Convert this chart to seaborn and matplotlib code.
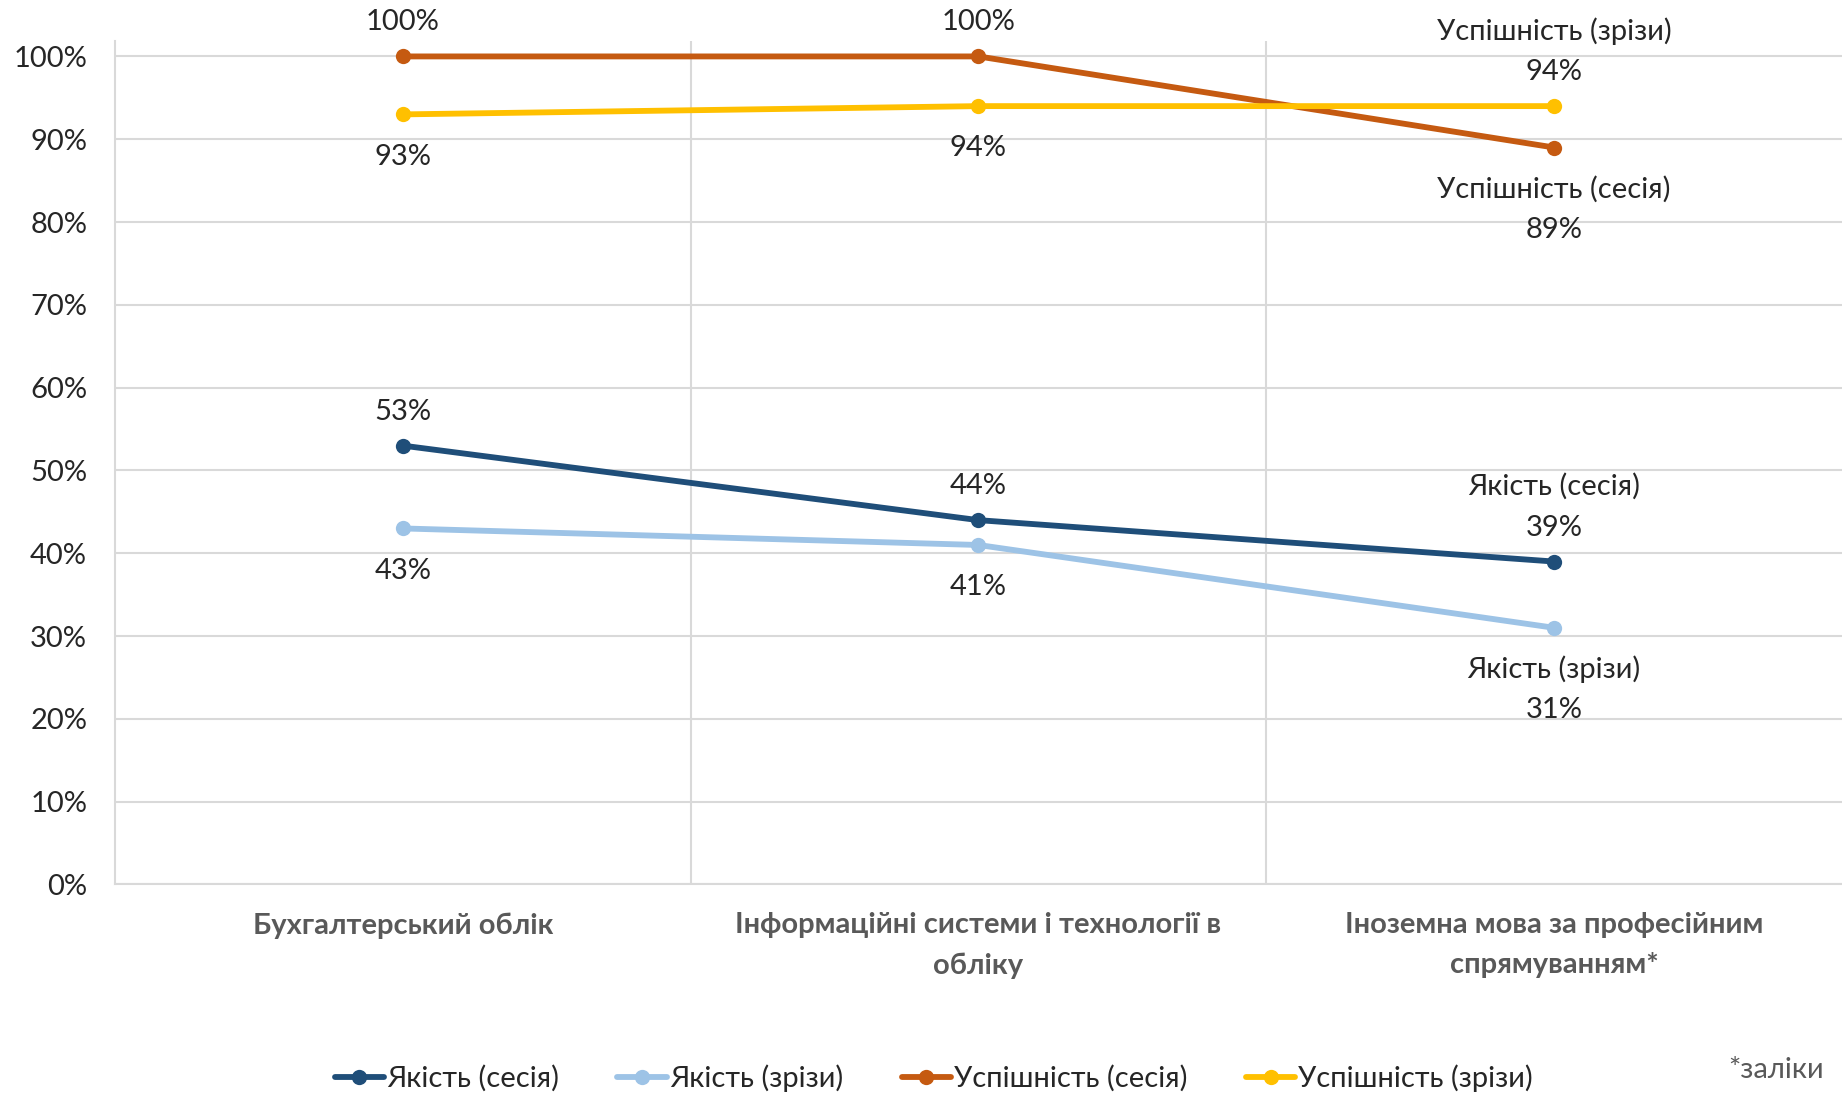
import pandas as pd
import matplotlib
matplotlib.use("Agg")
import matplotlib.pyplot as plt
import seaborn as sns

# Data
subjects = ["Бухгалтерський облік",
            "Інформаційні системи і технології в\nобліку",
            "Іноземна мова за професійним\nспрямуванням*"]
series_names = ["Якість (сесія)", "Якість (зрізи)", "Успішність (сесія)", "Успішність (зрізи)"]
quality_session = [0.53, 0.44, 0.39]
quality_check = [0.43, 0.41, 0.31]
success_session = [1.00, 1.00, 0.89]
success_check = [0.93, 0.94, 0.94]

colors = ["#1F4E79", "#9DC3E6", "#C55A11", "#FFC000"]
# label above (+1) or below (-1) each point
label_side = [[1, 1, 1], [-1, -1, -1], [1, 1, -1], [-1, -1, 1]]

rows = []
for name, vals in zip(series_names, [quality_session, quality_check, success_session, success_check]):
    for i, v in enumerate(vals):
        rows.append({"pos": i, "value": v, "series": name})
df = pd.DataFrame(rows)

sns.set_style("white")
plt.rcParams["font.family"] = ["Lato", "DejaVu Sans"]
fs = 21

fig = plt.figure(figsize=(18.42, 10.94), dpi=100)
ax = fig.add_axes([0.0624, 0.1915, 0.9376, 0.771])

sns.lineplot(data=df, x="pos", y="value", hue="series", hue_order=series_names,
             palette=colors, marker="o", markersize=11, markeredgewidth=0,
             linewidth=4.2, ax=ax, legend=True)

# data labels; series name shown only at the last point
for name, sides in zip(series_names, label_side):
    sub = df[df["series"] == name].reset_index(drop=True)
    for _, r in sub.iterrows():
        side = sides[int(r["pos"])]
        pct = f"{r['value']*100:.0f}%"
        xy = (r["pos"], r["value"])
        last = r["pos"] == 2
        if side > 0:
            ax.annotate(pct, xy, xytext=(0, 24.5), textcoords="offset points",
                        ha="center", va="center", fontsize=fs)
            if last:
                ax.annotate(name, xy, xytext=(0, 54), textcoords="offset points",
                            ha="center", va="center", fontsize=fs)
        else:
            if last:
                ax.annotate(name, xy, xytext=(0, -30), textcoords="offset points",
                            ha="center", va="center", fontsize=fs)
                ax.annotate(pct, xy, xytext=(0, -59.5), textcoords="offset points",
                            ha="center", va="center", fontsize=fs)
            else:
                ax.annotate(pct, xy, xytext=(0, -30.5), textcoords="offset points",
                            ha="center", va="center", fontsize=fs)

ax.set_xlim(-0.5, 2.5)
ax.set_ylim(0, 1.0186)
ax.set_yticks([i / 10 for i in range(11)])
ax.set_yticklabels([f"{i*10}%" for i in range(11)], fontsize=fs)
ax.set_xticks(range(3))
ax.set_xticklabels(subjects, fontsize=fs, fontweight="bold", color="#595959", linespacing=1.65)
ax.set_xticks([0.5, 1.5], minor=True)
ax.tick_params(axis="both", which="both", length=0)
ax.tick_params(axis="y", pad=20)
ax.tick_params(axis="x", pad=20)
ax.grid(axis="y", which="major", color="#D9D9D9", linewidth=1.5)
ax.grid(axis="x", which="minor", color="#D9D9D9", linewidth=1.5)
ax.grid(axis="x", which="major", visible=False)
ax.set_axisbelow(True)
ax.set_xlabel("")
ax.set_ylabel("")

for s in ["top", "right"]:
    ax.spines[s].set_visible(False)
for s in ["left", "bottom"]:
    ax.spines[s].set_color("#D9D9D9")
    ax.spines[s].set_linewidth(1.5)

handles, labels = ax.get_legend_handles_labels()
ax.legend(handles, labels, loc="center", bbox_to_anchor=(0.507, 0.0145),
          bbox_transform=fig.transFigure, ncol=4, frameon=False, fontsize=fs,
          handlelength=1.7, handletextpad=0.1, columnspacing=2.0)

fig.text(0.964, 0.022, "*заліки", fontsize=fs, color="#595959", ha="center", va="center")

fig.savefig("out.png", dpi=100)
